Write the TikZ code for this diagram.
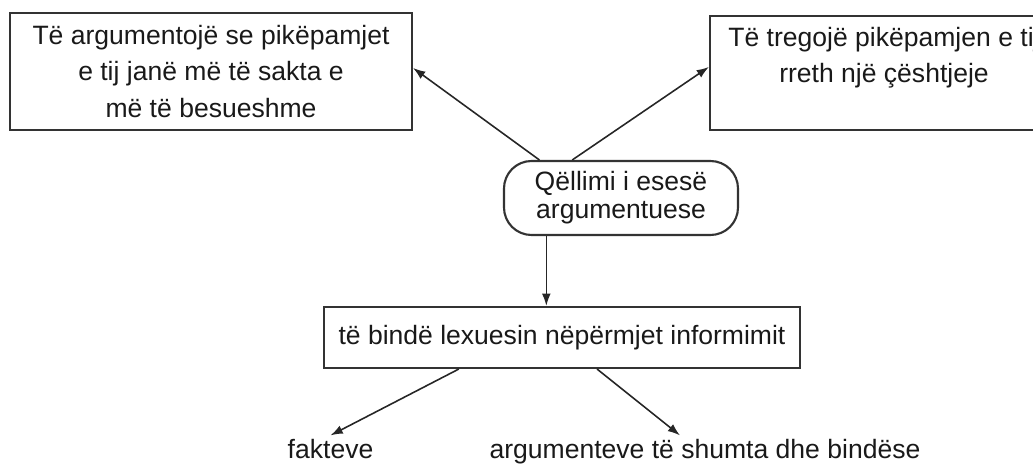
\documentclass[tikz,border=0pt]{standalone}
\usepackage{fontspec}
\setmainfont{Liberation Sans}
\usetikzlibrary{arrows.meta}

\begin{document}
\begin{tikzpicture}[
  box/.style={draw=black!80, line width=1.2pt, align=center, inner sep=0pt,
    text=black!90, font=\fontsize{15.1}{20.8}\selectfont},
  goalbox/.style={draw=black!80, line width=1.2pt, rounded corners=0.55cm,
    align=center, inner sep=0pt, text=black!90, font=\fontsize{15.1}{16}\selectfont},
  lbl/.style={anchor=base, inner sep=0pt, outer sep=2.5pt, text=black!90,
    font=\fontsize{15.1}{18}\selectfont},
  arr/.style={-{Latex[length=7pt,width=5pt]}, line width=0.9pt, draw=black!85}
]
 \useasboundingbox (0,0) rectangle (20.66,-9.28);

 \node[box, minimum width=8.04cm, minimum height=2.34cm] (argue) at (4.22,-1.43)
   {Të argumentojë se pikëpamjet\\ e tij janë më të sakta e\\ më të besueshme};
 \node[box, minimum width=6.96cm, minimum height=2.28cm] (show) at (17.68,-1.46)
   {Të tregojë pikëpamjen e tij\\ rreth një çështjeje\\ \mbox{}};

 \node[goalbox, minimum width=4.68cm, minimum height=1.48cm] (goal) at (12.42,-3.96)
   {Qëllimi i esesë\\ argumentuese};

 \node[box, minimum width=9.52cm, minimum height=1.22cm] (bind) at (11.24,-6.75)
   {të bindë lexuesin nëpërmjet informimit};

 \node[lbl] (fakt) at (6.61,-9.18) {fakteve};
 \node[lbl] (args) at (14.1,-9.18) {argumenteve të shumta dhe bindëse};


 \draw[arr] (goal.155.4) -- (argue.1);
 \draw[arr] (goal.142.9) -- (show.178);
 \draw[arr] (goal.207.9) -- (goal.207.9 |- bind.north);

 \draw[arr] (bind.197) -- (fakt.north);
 \draw[arr] (bind.318.1) -- ([xshift=-0.5cm]args.north);

\end{tikzpicture}
\end{document}
